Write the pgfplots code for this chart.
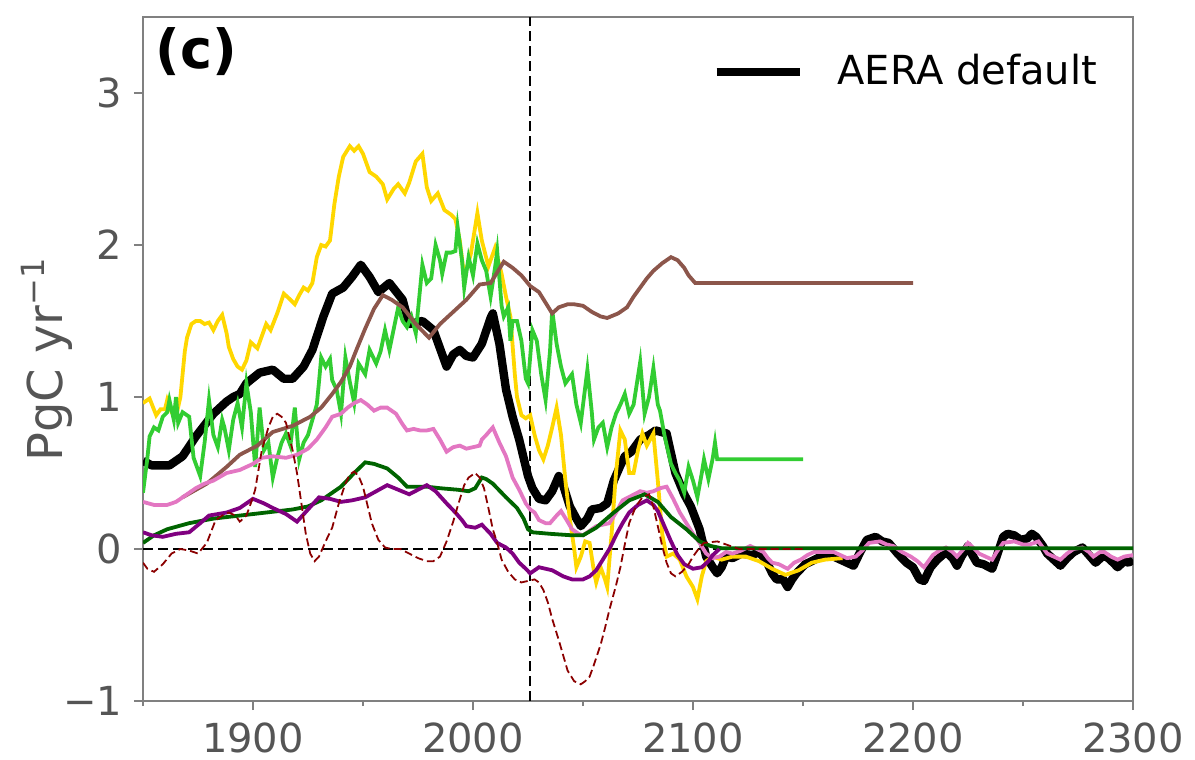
\documentclass[border=0pt]{standalone}
\usepackage{pgfplots}
\pgfplotsset{compat=1.18}
\usepackage{fontspec}
\setmainfont{DejaVu Sans}
\definecolor{tickgray}{RGB}{85,85,85}
\definecolor{spinegray}{RGB}{128,128,128}
\definecolor{cgold}{RGB}{255,215,0}
\definecolor{clime}{RGB}{50,205,50}
\definecolor{cbrown}{RGB}{140,86,75}
\definecolor{cpink}{RGB}{227,119,194}
\definecolor{cdkgreen}{RGB}{0,100,0}
\definecolor{cpurple}{RGB}{128,0,128}
\definecolor{cdkred}{RGB}{139,0,0}
\begin{document}
\begin{tikzpicture}
\begin{axis}[
  scale only axis,
  width=247.5pt, height=171pt,
  xmin=1850, xmax=2300, ymin=-1, ymax=3.5,
  xtick={1900,2000,2100,2200,2300},
  xticklabels={1900,2000,2100,2200,2300},
  minor xtick={1850,1950,2050,2150,2250},
  ytick={-1,0,1,2,3},
  yticklabels={−1,0,1,2,3},
  xtick pos=bottom, ytick pos=left,
  tick align=outside,
  major tick length=2.25pt, minor tick length=1.25pt,
  axis line style={draw=spinegray, line width=0.5pt},
  every tick/.style={draw=spinegray, line width=0.4pt},
  ticklabel style={text=tickgray, font=\fontsize{10}{12}\selectfont, inner sep=0pt},
  xticklabel style={anchor=north, yshift=-3pt},
  yticklabel style={anchor=east, xshift=-2.75pt},
  ylabel={PgC yr\textsuperscript{−1}},
  every axis y label/.style={at={(rel axis cs:-0.0818,0.5)}, anchor=base, rotate=90,
    font=\fontsize{12}{14}\selectfont, text=tickgray},
  legend style={draw=none, fill=none, at={(rel axis cs:0.9646,0.9196)}, anchor=east,
    inner sep=0pt, font=\fontsize{10}{12}\selectfont, text=black,
    nodes={inner sep=0pt}},
  legend image code/.code={\draw[#1, line width=2pt] (0pt,0pt) -- (20.75pt,0pt);},
  clip=true,
]
% reference lines
\addplot[forget plot, black, line width=0.4pt, dash pattern=on 2.5pt off 1.25pt] coordinates {(1850,0) (2300,0)};
\addplot[forget plot, black, line width=0.4pt, dash pattern=on 2.5pt off 1.25pt] coordinates {(2026,-1) (2026,3.5)};

% AERA default
\addplot[black, line width=2.1pt, line join=round] coordinates {
(1850,0.58) (1854,0.55) (1862,0.55) (1868,0.61) (1874,0.74) (1882,0.89) (1888,0.97) (1891,1.0)
(1894,1.02) (1897,1.09) (1903,1.16) (1909,1.18) (1914,1.12) (1918,1.12) (1923,1.2) (1927,1.31)
(1932,1.53) (1936,1.68) (1941,1.72) (1945,1.79) (1949,1.87) (1953,1.79) (1957,1.69) (1962,1.75)
(1968,1.64) (1971,1.48) (1977,1.5) (1982,1.44) (1985,1.32) (1988,1.2) (1991,1.28) (1994,1.31)
(1997,1.27) (2000,1.26) (2004,1.35) (2008,1.52) (2009,1.55) (2012,1.35) (2015,1.05) (2018,0.87)
(2021,0.72) (2023,0.6) (2025,0.48) (2027,0.4) (2030,0.33) (2033,0.32) (2036,0.38) (2039,0.48)
(2041,0.42) (2044,0.28) (2047,0.2) (2049,0.15) (2052,0.2) (2054,0.26) (2058,0.27) (2061,0.3)
(2064,0.45) (2067,0.55) (2069,0.61) (2072,0.64) (2076,0.72) (2080,0.75) (2083,0.78) (2088,0.76)
(2092,0.5) (2096,0.36) (2099,0.28) (2103,0.13) (2106,-0.05) (2109,-0.12) (2111,-0.16) (2113,-0.12)
(2115,-0.05) (2118,-0.06) (2122,-0.03) (2127,-0.04) (2130,-0.02) (2133,-0.07) (2136,-0.16) (2138,-0.2)
(2141,-0.2) (2143,-0.25) (2145,-0.2) (2147,-0.16) (2151,-0.1) (2154,-0.08) (2158,-0.05) (2161,-0.04)
(2164,-0.05) (2167,-0.07) (2170,-0.09) (2173,-0.11) (2176,-0.02) (2179,0.06) (2183,0.08) (2186,0.05)
(2189,0.04) (2193,-0.03) (2197,-0.09) (2200,-0.12) (2203,-0.2) (2205,-0.21) (2208,-0.12) (2211,-0.07)
(2215,-0.02) (2218,-0.06) (2220,-0.11) (2222,-0.05) (2225,0.02) (2227,-0.04) (2229,-0.09) (2232,-0.1)
(2236,-0.13) (2238,-0.05) (2241,0.08) (2243,0.1) (2246,0.09) (2249,0.06) (2252,0.07) (2254,0.1)
(2256,0.08) (2259,0.02) (2261,-0.03) (2264,-0.07) (2267,-0.11) (2270,-0.06) (2273,-0.02) (2277,0.01)
(2280,-0.04) (2283,-0.09) (2286,-0.05) (2288,-0.05) (2291,-0.09) (2293,-0.12) (2296,-0.08) (2298,-0.09)
(2300,-0.07)
};
\addlegendentry{\hspace{8.5pt}AERA default}

% gold
\addplot[forget plot, cgold, line width=0.95pt] coordinates {
(1850,0.96) (1853,0.99) (1856,0.88) (1858,0.92) (1860,0.92) (1861,0.98) (1863,0.9) (1865,0.87)
(1867,1.0) (1869,1.3) (1870,1.39) (1872,1.48) (1874,1.5) (1876,1.5) (1878,1.48) (1880,1.49)
(1882,1.44) (1884,1.5) (1886,1.54) (1888,1.42) (1889,1.33) (1891,1.25) (1893,1.2) (1895,1.18)
(1897,1.24) (1899,1.36) (1902,1.32) (1904,1.4) (1906,1.48) (1908,1.44) (1911,1.55) (1914,1.68)
(1917,1.64) (1919,1.61) (1921,1.67) (1923,1.72) (1925,1.7) (1927,1.75) (1929,1.92) (1931,2.0)
(1933,1.99) (1935,2.03) (1937,2.27) (1939,2.45) (1941,2.58) (1944,2.65) (1946,2.62) (1948,2.65)
(1950,2.6) (1953,2.48) (1956,2.45) (1959,2.4) (1961,2.3) (1964,2.37) (1966,2.4) (1969,2.34)
(1971,2.41) (1974,2.55) (1977,2.6) (1979,2.38) (1981,2.29) (1984,2.34) (1987,2.23) (1990,2.2)
(1992,2.17) (1994,2.03) (1996,1.79) (1999,1.94) (2002,2.21) (2004,2.03) (2007,1.86) (2010,1.98)
(2013,1.81) (2015,1.66) (2017,1.53) (2019,1.15) (2020,1.0) (2022,0.88) (2024,0.86) (2026,0.88)
(2028,0.75) (2030,0.65) (2032,0.59) (2034,0.68) (2036,0.8) (2038,0.93) (2040,0.75) (2042,0.45)
(2044,0.2) (2046,0.0) (2047,-0.12) (2049,-0.05) (2051,0.05) (2053,0.04) (2055,-0.15) (2056,-0.22)
(2058,-0.12) (2060,-0.2) (2061,-0.25) (2063,0.1) (2065,0.5) (2067,0.78) (2069,0.72) (2071,0.5)
(2073,0.5) (2075,0.65) (2077,0.76) (2079,0.68) (2082,0.76) (2084,0.45) (2086,0.1) (2088,-0.05)
(2091,-0.03) (2094,-0.07) (2097,-0.18) (2100,-0.25) (2102,-0.33) (2104,-0.18) (2106,-0.08) (2109,-0.05)
(2113,-0.07) (2118,-0.05) (2124,-0.05) (2130,-0.08) (2136,-0.13) (2142,-0.17) (2148,-0.14) (2154,-0.09)
(2160,-0.07) (2168,-0.06)
};

% lime green
\addplot[forget plot, clime, line width=0.95pt] coordinates {
(1850,0.37) (1852,0.6) (1853,0.74) (1855,0.8) (1857,0.78) (1859,0.87) (1861,0.9) (1862,0.98)
(1864,0.85) (1865,1.0) (1866,0.83) (1868,0.9) (1871,0.87) (1873,0.6) (1876,0.48) (1878,0.7)
(1880,0.98) (1882,0.75) (1884,0.67) (1886,0.85) (1887,0.8) (1889,0.65) (1891,0.85) (1893,0.96)
(1895,0.8) (1897,1.09) (1899,0.9) (1901,0.54) (1903,0.93) (1905,0.65) (1907,0.7) (1909,0.47)
(1911,0.6) (1913,0.7) (1915,0.76) (1917,0.68) (1919,0.93) (1921,0.59) (1923,0.7) (1925,0.75)
(1927,0.85) (1929,0.95) (1930,1.1) (1931,1.26) (1933,1.2) (1935,1.25) (1936,1.11) (1938,1.05)
(1940,0.89) (1942,1.26) (1944,1.1) (1946,0.96) (1948,1.22) (1951,1.15) (1953,1.31) (1956,1.22)
(1958,1.3) (1960,1.44) (1962,1.31) (1964,1.45) (1966,1.59) (1968,1.5) (1970,1.46) (1972,1.53)
(1974,1.42) (1977,1.87) (1979,1.75) (1981,1.78) (1983,2.0) (1985,1.9) (1986,1.81) (1988,1.95)
(1990,1.95) (1992,1.96) (1993,2.12) (1995,1.9) (1996,1.72) (1998,1.92) (2000,1.8) (2002,2.01)
(2004,1.9) (2006,1.83) (2008,1.66) (2010,1.85) (2011,1.96) (2013,1.6) (2014,1.53) (2016,1.59)
(2017,1.37) (2018,1.5) (2020,1.5) (2022,1.37) (2024,1.12) (2025,1.09) (2027,1.44) (2029,1.37)
(2031,1.15) (2033,0.98) (2035,1.3) (2036,1.57) (2038,1.35) (2040,1.2) (2042,1.09) (2045,1.15)
(2047,0.95) (2049,0.83) (2052,1.18) (2054,0.9) (2055,0.72) (2057,0.8) (2059,0.83) (2061,0.67)
(2063,0.8) (2065,0.89) (2067,0.95) (2069,1.02) (2071,0.89) (2073,0.95) (2076,1.23) (2078,0.89)
(2080,1.0) (2082,1.19) (2084,0.95) (2085,0.91) (2087,0.75) (2090,0.56) (2092,0.5) (2094,0.45)
(2096,0.37) (2098,0.54) (2100,0.45) (2102,0.34) (2104,0.5) (2105,0.59) (2107,0.46) (2109,0.6)
(2110,0.7) (2111,0.59) (2150,0.59)
};

% brown
\addplot[forget plot, cbrown, line width=0.95pt] coordinates {
(1868,0.34) (1879,0.43) (1888,0.54) (1894,0.62) (1902,0.68) (1909,0.77) (1918,0.81) (1926,0.87)
(1931,0.93) (1936,1.02) (1940,1.1) (1944,1.2) (1947,1.31) (1951,1.45) (1955,1.58) (1959,1.67)
(1963,1.64) (1968,1.59) (1974,1.48) (1980,1.39) (1985,1.48) (1991,1.56) (1997,1.64) (2003,1.74)
(2008,1.75) (2011,1.82) (2014,1.89) (2018,1.85) (2022,1.8) (2026,1.73) (2030,1.69) (2033,1.62)
(2036,1.55) (2039,1.59) (2043,1.61) (2046,1.61) (2050,1.6) (2054,1.56) (2058,1.53) (2061,1.52)
(2066,1.55) (2070,1.59) (2073,1.66) (2076,1.72) (2079,1.78) (2082,1.83) (2086,1.88) (2090,1.92)
(2093,1.9) (2096,1.85) (2098,1.8) (2101,1.75) (2200,1.75)
};

% pink
\addplot[forget plot, cpink, line width=0.95pt] coordinates {
(1850,0.31) (1855,0.29) (1861,0.29) (1865,0.31) (1868,0.34) (1874,0.4) (1878,0.43) (1882,0.45)
(1888,0.5) (1894,0.52) (1900,0.56) (1904,0.6) (1909,0.61) (1915,0.6) (1920,0.62) (1925,0.66)
(1929,0.72) (1933,0.8) (1936,0.87) (1940,0.89) (1943,0.93) (1946,0.96) (1949,0.98) (1952,0.95)
(1955,0.91) (1958,0.93) (1961,0.93) (1965,0.89) (1968,0.82) (1970,0.78) (1973,0.79) (1976,0.78)
(1979,0.78) (1982,0.79) (1985,0.72) (1988,0.64) (1991,0.67) (1994,0.68) (1997,0.66) (2000,0.67)
(2003,0.68) (2004,0.72) (2006,0.75) (2009,0.8) (2012,0.7) (2015,0.61) (2018,0.47) (2021,0.39)
(2024,0.3) (2026,0.26) (2028,0.24) (2030,0.19) (2033,0.17) (2035,0.17) (2038,0.22) (2040,0.25)
(2043,0.18) (2045,0.13) (2048,0.1) (2050,0.09) (2053,0.12) (2056,0.15) (2059,0.16) (2062,0.17)
(2065,0.24) (2068,0.32) (2072,0.35) (2076,0.38) (2079,0.37) (2082,0.38) (2085,0.4) (2088,0.41)
(2091,0.33) (2094,0.24) (2097,0.17) (2100,0.1) (2103,0.04) (2106,-0.03) (2109,-0.06) (2112,-0.05)
(2115,-0.02) (2118,-0.03) (2122,-0.01) (2126,0.02) (2129,0.0) (2132,-0.02) (2134,-0.06) (2136,-0.09)
(2139,-0.1) (2143,-0.13) (2146,-0.09) (2149,-0.07) (2152,-0.04) (2155,-0.02) (2159,-0.02) (2164,-0.02)
(2167,-0.04) (2170,-0.06) (2174,-0.05) (2177,-0.01) (2180,0.04) (2185,0.05) (2188,0.03) (2191,0.02)
(2195,-0.02) (2199,-0.05) (2202,-0.08) (2205,-0.12) (2209,-0.04) (2212,-0.01) (2215,0.01) (2218,-0.02)
(2220,-0.05) (2223,0.0) (2225,0.04) (2228,0.0) (2230,-0.03) (2233,-0.05) (2236,-0.07) (2238,-0.02)
(2241,0.04) (2246,0.05) (2250,0.03) (2253,0.03) (2257,0.05) (2259,0.01) (2261,-0.03) (2264,-0.05)
(2267,-0.07) (2270,-0.03) (2273,0.0) (2277,0.01) (2280,-0.02) (2282,-0.05) (2285,-0.02) (2287,-0.02)
(2290,-0.05) (2293,-0.07) (2296,-0.05) (2300,-0.04)
};

% dark green
\addplot[forget plot, cdkgreen, line width=0.95pt] coordinates {
(1850,0.04) (1855,0.09) (1861,0.13) (1871,0.17) (1882,0.2) (1894,0.22) (1906,0.24) (1918,0.26)
(1925,0.28) (1931,0.32) (1936,0.37) (1940,0.41) (1946,0.5) (1951,0.57) (1955,0.56) (1961,0.53)
(1966,0.47) (1970,0.41) (1979,0.41) (1985,0.4) (1993,0.39) (1998,0.38) (2001,0.4) (2004,0.47)
(2006,0.46) (2009,0.43) (2015,0.34) (2020,0.27) (2023,0.2) (2025,0.13) (2027,0.11) (2035,0.1)
(2045,0.09) (2050,0.09) (2056,0.14) (2064,0.24) (2071,0.32) (2078,0.36) (2084,0.31) (2090,0.21)
(2097,0.13) (2103,0.05) (2108,0.02) (2113,0.005) (2300,0.005)
};

% purple
\addplot[forget plot, cpurple, line width=0.95pt] coordinates {
(1850,0.11) (1854,0.09) (1859,0.08) (1865,0.1) (1871,0.11) (1876,0.17) (1880,0.22) (1888,0.24)
(1894,0.27) (1900,0.33) (1905,0.3) (1909,0.27) (1915,0.23) (1920,0.18) (1925,0.26) (1930,0.34)
(1935,0.33) (1940,0.31) (1945,0.32) (1951,0.34) (1956,0.38) (1961,0.42) (1966,0.39) (1971,0.36)
(1975,0.39) (1979,0.42) (1983,0.38) (1988,0.3) (1992,0.24) (1995,0.19) (1997,0.15) (2001,0.14)
(2004,0.16) (2008,0.1) (2011,0.04) (2015,0.01) (2018,-0.03) (2021,-0.09) (2024,-0.13) (2026,-0.16)
(2030,-0.12) (2036,-0.14) (2041,-0.18) (2045,-0.2) (2050,-0.2) (2053,-0.18) (2056,-0.14) (2059,-0.07)
(2062,0.0) (2065,0.09) (2068,0.17) (2071,0.24) (2075,0.29) (2079,0.32) (2082,0.29) (2084,0.25)
(2087,0.15) (2090,0.05) (2093,-0.04) (2096,-0.1) (2100,-0.13) (2104,-0.12) (2107,-0.08) (2109,-0.04)
(2112,0.0)
};

% dark red dashed
\addplot[forget plot, cdkred, line width=0.45pt, dash pattern=on 2pt off 1pt] coordinates {
(1850,-0.09) (1852,-0.13) (1855,-0.15) (1859,-0.1) (1863,-0.03) (1867,0.0) (1871,-0.01) (1875,-0.03)
(1879,0.04) (1883,0.19) (1886,0.22) (1889,0.24) (1892,0.22) (1894,0.18) (1897,0.22) (1899,0.3)
(1901,0.39) (1904,0.65) (1907,0.8) (1909,0.87) (1911,0.89) (1913,0.87) (1915,0.83) (1918,0.65)
(1920,0.5) (1922,0.3) (1924,0.1) (1926,-0.03) (1928,-0.08) (1930,-0.05) (1933,0.05) (1936,0.14)
(1939,0.3) (1942,0.43) (1944,0.49) (1946,0.51) (1948,0.48) (1950,0.41) (1952,0.29) (1954,0.17)
(1957,0.06) (1960,0.01) (1963,0.0) (1967,0.0) (1971,-0.03) (1975,-0.06) (1979,-0.08) (1982,-0.08)
(1985,-0.05) (1988,0.05) (1991,0.18) (1993,0.28) (1996,0.42) (1998,0.47) (2001,0.5) (2003,0.47)
(2005,0.4) (2007,0.27) (2009,0.13) (2011,0.04) (2013,-0.07) (2016,-0.15) (2019,-0.2) (2022,-0.22)
(2025,-0.21) (2028,-0.2) (2030,-0.22) (2032,-0.27) (2034,-0.35) (2036,-0.46) (2039,-0.6) (2041,-0.7)
(2043,-0.8) (2046,-0.87) (2049,-0.89) (2051,-0.87) (2053,-0.84) (2055,-0.76) (2058,-0.63) (2060,-0.52)
(2062,-0.4) (2065,-0.24) (2067,-0.12) (2069,0.03) (2071,0.17) (2074,0.28) (2077,0.34) (2080,0.36)
(2082,0.28) (2084,0.15) (2086,0.02) (2088,-0.09) (2090,-0.16) (2092,-0.18) (2095,-0.15) (2098,-0.1)
(2100,-0.05) (2103,0.01) (2105,0.04) (2111,0.05) (2117,0.02) (2121,0.0) (2150,0.0)
};

\node[anchor=north west, inner sep=0pt, font=\bfseries\fontsize{13.5}{16}\selectfont]
  at (rel axis cs:0,1) [xshift=3pt, yshift=-2.5pt] {(c)};
\end{axis}
\pgfresetboundingbox
\path (-35.75pt,-14.5pt) rectangle (263pt,175.25pt);
\end{tikzpicture}
\end{document}
